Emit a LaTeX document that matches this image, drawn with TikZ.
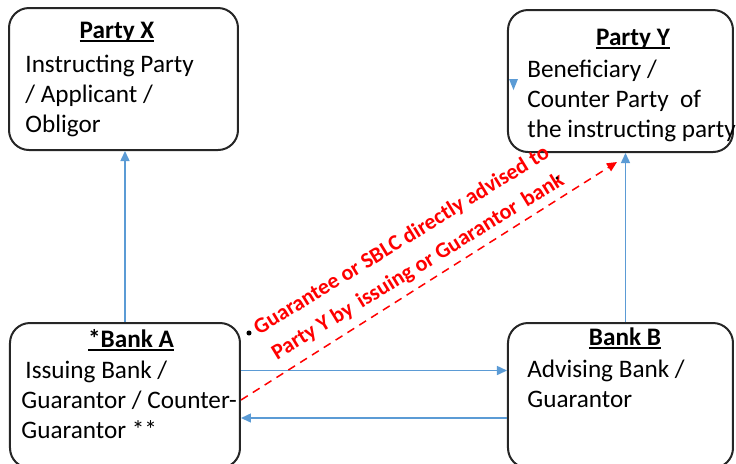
\documentclass[tikz,border=0pt]{standalone}
\usepackage{fontspec}
\setmainfont{Carlito}
\usepackage{xcolor}
\usetikzlibrary{calc,arrows.meta}
\definecolor{frame}{HTML}{262626}
\definecolor{flow}{HTML}{5B9BD5}
\definecolor{alert}{HTML}{FF0000}
\newcommand{\headline}[1]{{\setbox0\hbox{#1}\rlap{\rule[-1.8pt]{\wd0}{0.7pt}}\box0}}
\tikzset{
  box/.style={draw=frame, line width=1pt, rounded corners=10pt, inner sep=0pt},
  link/.style={draw=flow, line width=0.75pt, -{Triangle[length=5pt,width=4.5pt]}},
  direct/.style={draw=alert, dash pattern=on 4pt off 3pt, line width=0.75pt, -{Triangle[length=5pt,width=4.5pt]}},
  head/.style={font=\fontsize{12.6}{15}\selectfont\bfseries, anchor=base, inner sep=0pt},
  body/.style={font=\fontsize{12.6}{15}\selectfont, align=left, anchor=north west, inner sep=0pt},
  note/.style={text=alert, font=\fontsize{11}{15.5}\selectfont\bfseries, align=center, rotate=31.5, inner sep=0pt},
  dot/.style={circle, fill=black, inner sep=0.9pt},
}
\begin{document}
\begin{tikzpicture}[x=0.5pt, y=-0.5pt]
  \clip (0,0) rectangle (736,463);
  % boxes
  \node[box, minimum width=114.5pt, minimum height=71pt] (px) at (123.5,79) {};
  \node[box, minimum width=112.5pt, minimum height=71pt] (py) at (620.5,81) {};
  \node[box, minimum width=115pt, minimum height=72.5pt] (ba) at (125,395.5) {};
  \node[box, minimum width=112.5pt, minimum height=72.5pt] (bb) at (620.5,395.5) {};
  % texts
  \node[head] (pxt) at (117,38) {\headline{Party X}};
  \node[body] (pxb) at (25,55) {Instructing Party\\/ Applicant /\\Obligor};
  \node[head] (pyt) at (633,45) {\headline{Party Y}};
  \node[body] (pyb) at (527,60) {Beneficiary /\\Counter Party\ \ of\\the instructing party};
  \node[head] (bat) at (131,347) {\headline{*Bank A}};
  \node[body] (bab) at (21,361) {\hspace{2pt}Issuing Bank /\\Guarantor / Counter-\\Guarantor **};
  \node[head] (bbt) at (625,345) {\headline{Bank B}};
  \node[body] (bbb) at (527,360) {Advising Bank /\\Guarantor};
  % connectors
  \draw[link] (ba.north) -- (ba.north |- px.south);
  \draw[link] ([xshift=2.5pt]bb.north) -- ([xshift=2.5pt]bb.north |- py.south);
  \draw[link] ([yshift=12.5pt]ba.east) -- ([yshift=12.5pt]bb.west);
  \draw[link] ([yshift=-11.25pt]bb.west) -- ([yshift=-11.25pt]ba.east);
  \fill[flow] (509,79) -- (518,79) -- (513.5,90) -- cycle;
  \coordinate (tip) at (617,162);
  \draw[direct] ([yshift=-2.25pt]ba.east) -- (tip);
  \node[note] (msg) at (410,254) {Guarantee or SBLC directly advised to\\Party Y by\hspace{1.5pt} issuing or Guarantor\hspace{1.5pt} bank};
  \node[dot] (d1) at (249,333) {};
  \node[dot, inner sep=0.6pt] (d2) at (557,178) {};
\end{tikzpicture}
\end{document}
